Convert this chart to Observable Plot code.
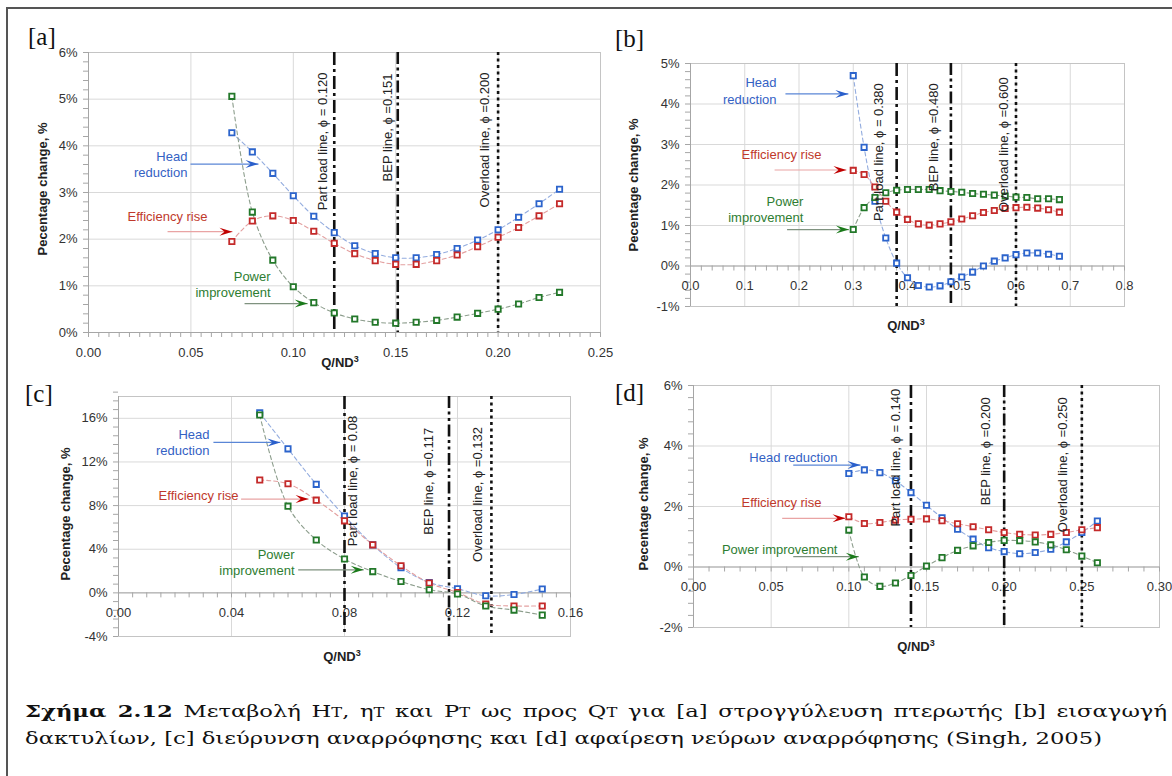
<!DOCTYPE html>
<html>
<head>
<meta charset="utf-8">
<script src="https://cdn.jsdelivr.net/npm/d3@7"></script>
<script src="https://cdn.jsdelivr.net/npm/@observablehq/plot@0.6"></script>
<style>
html,body{margin:0;padding:0;background:#fff;}
#fig{position:relative;width:1172px;height:776px;overflow:hidden;background:#fff;}
.panel{position:absolute;}
.panel svg{display:block;max-width:none !important;}
#caption{position:absolute;left:25px;top:699px;font-family:"DejaVu Serif",serif;font-size:17px;color:#111;transform-origin:0 0;line-height:25px;}
#caption .l1{white-space:nowrap;text-align:justify;text-align-last:justify;}
#caption .l2{white-space:nowrap;}
#caption .t{font-size:0.72em;}
</style>
</head>
<body>
<div id="fig"></div>
<script>
// ---------------- data ----------------
// [a] impeller rounding
const qA    = [0.07,0.08,0.09,0.10,0.11,0.12,0.13,0.14,0.15,0.16,0.17,0.18,0.19,0.20,0.21,0.22,0.23];
const headA = [4.28,3.87,3.41,2.93,2.49,2.14,1.86,1.69,1.60,1.60,1.67,1.80,1.98,2.20,2.47,2.76,3.07];
const effA  = [1.95,2.39,2.50,2.40,2.17,1.91,1.69,1.54,1.46,1.46,1.54,1.66,1.84,2.04,2.25,2.50,2.76];
const powA  = [5.06,2.58,1.55,0.98,0.64,0.42,0.29,0.22,0.20,0.22,0.26,0.33,0.41,0.50,0.61,0.75,0.86];
// [b] ring insertion
const qB    = [0.30,0.32,0.34,0.36,0.38,0.40,0.42,0.44,0.46,0.48,0.50,0.52,0.54,0.56,0.58,0.60,0.62,0.64,0.66,0.68];
const headB = [4.70,2.93,1.60,0.69,0.07,-0.29,-0.48,-0.52,-0.49,-0.39,-0.27,-0.15,0.00,0.12,0.20,0.28,0.32,0.32,0.29,0.24];
const effB  = [2.36,2.26,1.95,1.60,1.33,1.15,1.04,1.01,1.04,1.09,1.16,1.24,1.32,1.37,1.42,1.44,1.45,1.43,1.39,1.33];
const powB  = [0.90,1.44,1.69,1.81,1.87,1.89,1.89,1.89,1.86,1.84,1.82,1.79,1.77,1.75,1.73,1.70,1.69,1.66,1.66,1.64];
// [c] suction enlargement
const qC    = [0.05,0.06,0.07,0.08,0.09,0.10,0.11,0.12,0.13,0.14,0.15];
const headC = [16.5,13.2,9.95,7.05,4.40,2.30,0.95,0.38,-0.27,-0.15,0.35];
const effC  = [10.35,10.0,8.50,6.60,4.40,2.48,0.90,0.03,-1.03,-1.20,-1.20];
const powC  = [16.3,7.95,4.85,3.10,1.95,1.04,0.29,-0.10,-1.20,-1.58,-2.04];
// [d] suction rib removal
const qD    = [0.10,0.11,0.12,0.13,0.14,0.15,0.16,0.17,0.18,0.19,0.20,0.21,0.22,0.23,0.24,0.25,0.26];
const headD = [3.09,3.21,3.12,2.85,2.46,2.04,1.63,1.25,0.92,0.64,0.51,0.44,0.48,0.59,0.83,1.14,1.52];
const effD  = [1.66,1.44,1.47,1.55,1.58,1.59,1.53,1.43,1.33,1.23,1.14,1.08,1.06,1.08,1.14,1.23,1.30];
const powD  = [1.22,-0.33,-0.64,-0.53,-0.28,0.03,0.31,0.55,0.70,0.81,0.88,0.87,0.83,0.73,0.57,0.36,0.14];

// reference lines (flow coefficient φ) and their labels
const linesA = [{kind:"part", phi:0.120, text:"Part load line, ϕ = 0.120"},{kind:"bep", phi:0.151, text:"BEP line, ϕ =0.151"},{kind:"over", phi:0.200, text:"Overload line, ϕ =0.200"}];
const linesB = [{kind:"part", phi:0.380, text:"Part load line, ϕ = 0.380"},{kind:"bep", phi:0.480, text:"BEP line, ϕ =0.480"},{kind:"over", phi:0.600, text:"Overload line, ϕ =0.600"}];
const linesC = [{kind:"part", phi:0.080, text:"Part load line, ϕ = 0.08"},{kind:"bep", phi:0.117, text:"BEP line, ϕ =0.117"},{kind:"over", phi:0.132, text:"Overload line, ϕ =0.132"}];
const linesD = [{kind:"part", phi:0.140, text:"Part load line, ϕ = 0.140"},{kind:"bep", phi:0.200, text:"BEP line, ϕ =0.200"},{kind:"over", phi:0.250, text:"Overload line, ϕ =0.250"}];
// label anchors (data units: top end of each rotated label)
const lineLabelPosA = [[0.1143,5.57],[0.146,5.55],[0.1934,5.57]];
const lineLabelPosB = [[0.3465,4.51],[0.448,4.51],[0.577,4.66]];
const lineLabelPosC = [[0.0828,16.23],[0.1097,15.13],[0.1271,15.2]];
const lineLabelPosD = [[0.130,5.89],[0.188,5.61],[0.2379,5.61]];

// series annotations: text anchor (right end) and arrow (data units)
const annotA = [
  {s:"head", text:"Head\nreduction",    tx:0.0483, ty:3.62, x1:0.0498, x2:0.0830, y:3.61},
  {s:"eff",  text:"Efficiency rise",    tx:0.0581, ty:2.51, x1:0.0386, x2:0.0703, y:2.16},
  {s:"pow",  text:"Power\nimprovement", tx:0.0889, ty:1.04, x1:0.0762, x2:0.1070, y:0.62}];
const annotB = [
  {s:"head", text:"Head\nreduction",    tx:0.1585, ty:4.34, x1:0.175, x2:0.291, y:4.25},
  {s:"eff",  text:"Efficiency rise",    tx:0.2415, ty:2.78, x1:0.155, x2:0.2875, y:2.37},
  {s:"pow",  text:"Power\nimprovement", tx:0.208,  ty:1.42, x1:0.178, x2:0.292, y:0.90}];
const annotC = [
  {s:"head", text:"Head\nreduction",    tx:0.0322, ty:13.85, x1:0.0336, x2:0.0573, y:13.79},
  {s:"eff",  text:"Efficiency rise",    tx:0.0425, ty:8.99,  x1:0.0434, x2:0.0673, y:8.60},
  {s:"pow",  text:"Power\nimprovement", tx:0.0623, ty:2.85,  x1:0.0636, x2:0.0868, y:2.11}];
const annotD = [
  {s:"head", text:"Head reduction",    tx:0.0927, ty:3.63, x1:0.0642, x2:0.1075, y:3.37},
  {s:"eff",  text:"Efficiency rise",   tx:0.0824, ty:2.14, x1:0.0571, x2:0.0979, y:1.61},
  {s:"pow",  text:"Power improvement", tx:0.0927, ty:0.59, x1:0.0642, x2:0.1064, y:0.34}];

// axis ticks
const xMajorA = [0,0.05,0.10,0.15,0.20,0.25];
const yMajorA = [0,1,2,3,4,5,6];
const xMajorB = [0,0.1,0.2,0.3,0.4,0.5,0.6,0.7,0.8];
const yMajorB = [-1,0,1,2,3,4,5];
const xMajorC = [0,0.04,0.08,0.12,0.16];
const yMajorC = [-4,0,4,8,12,16];
const xMajorD = [0,0.05,0.10,0.15,0.20,0.25,0.30];
const yMajorD = [-2,0,2,4,6];

// ---------------- styling ----------------
const FONT = "'Liberation Sans', Arial, sans-serif";
const COL = {
  head: {mark:"#2c64cc", trend:"#93acdf", text:"#3461c4", shaft:"#5a86d6", tip:"#2a5fcb"},
  eff:  {mark:"#c42a2a", trend:"#e3a0a0", text:"#c0392b", shaft:"#e9a4a4", tip:"#c00000"},
  pow:  {mark:"#23782a", trend:"#8d9e8d", text:"#2e7d32", shaft:"#7f927f", tip:"#1a7a1a"}
};
const DASH = {part:"13,4,3,4", bep:"12,3.5,3,3.5,3,3.5", over:"3,3.5"};
const stealth = {draw(ctx){ ctx.moveTo(0,0); ctx.lineTo(-13,-4); ctx.lineTo(-8,0); ctx.lineTo(-13,4); ctx.closePath(); }};
const range = (a,b,s) => { const out=[]; const n=Math.round((b-a)/s); for(let i=0;i<=n;i++) out.push(+(a+i*s).toFixed(6)); return out; };

function buildPanel(p){
  const [x0] = p.xDomain;
  const marks = [];
  // grid
  marks.push(Plot.ruleX(p.xMajor, {x:d=>d, stroke:"#d9d9d9", strokeWidth:1}));
  marks.push(Plot.ruleY(p.yMajor, {y:d=>d, stroke:"#d9d9d9", strokeWidth:1}));
  marks.push(Plot.frame({stroke:"#c4c4c4"}));
  // axis lines
  marks.push(Plot.ruleX([x0], {x:d=>d, stroke:"#a6a6a6"}));
  marks.push(Plot.ruleY([0], {y:d=>d, stroke:"#a6a6a6"}));
  // ticks
  marks.push(Plot.ruleY(range(p.yDomain[0], p.yDomain[1], p.yMinor), {y:d=>d, x1:()=>x0, x2:()=>x0, insetLeft:-5, stroke:"#a6a6a6"}));
  marks.push(Plot.ruleX(range(p.xDomain[0], p.xDomain[1], p.xMinor), {x:d=>d, y1:()=>0, y2:()=>0, insetBottom:-5, stroke:"#a6a6a6"}));
  // tick labels
  marks.push(Plot.text(p.xMajor, {x:d=>d, y:()=>0, dy:20, text:p.xFmt, fill:"#333", fontSize:13, lineAnchor:"middle"}));
  marks.push(Plot.text(p.yMajor, {x:()=>x0, y:d=>d, dx:-11, text:d=>d+"%", textAnchor:"end", fill:"#333", fontSize:13}));
  // reference lines
  p.lines.forEach(l => marks.push(Plot.ruleX([l], {x:"phi", stroke:"#111", strokeWidth:2.6, strokeDasharray:DASH[l.kind]})));
  // series
  const series = [["head",p.head],["eff",p.eff],["pow",p.pow]];
  series.forEach(([k,vals]) => {
    const rows = p.q.map((x,i)=>({x, y:vals[i]}));
    marks.push(Plot.line(rows, {x:"x", y:"y", stroke:COL[k].trend, strokeWidth:1.1, strokeDasharray:"4,3", curve:"catmull-rom"}));
  });
  series.forEach(([k,vals]) => {
    const rows = p.q.map((x,i)=>({x, y:vals[i]}));
    marks.push(Plot.dot(rows, {x:"x", y:"y", symbol:"square", r:3, fill:"white", stroke:COL[k].mark, strokeWidth:1.8}));
  });
  // annotations
  p.annot.forEach(a => {
    marks.push(Plot.link([a], {x1:"x1", x2:"x2", y1:"y", y2:"y", stroke:COL[a.s].shaft, strokeWidth:1.2}));
    marks.push(Plot.dot([a], {x:"x2", y:"y", symbol:stealth, fill:COL[a.s].tip, stroke:"none"}));
    marks.push(Plot.text([a], {x:"tx", y:"ty", text:"text", textAnchor:"end", lineAnchor:"middle", lineHeight:1.25, fill:COL[a.s].text, fontSize:13}));
  });
  // rotated line labels
  const labs = p.lines.map((l,i)=>({text:l.text, lx:p.labelPos[i][0], ly:p.labelPos[i][1]}));
  marks.push(Plot.text(labs, {x:"lx", y:"ly", text:"text", rotate:-90, textAnchor:"end", lineAnchor:"middle", fill:"#222", fontSize:13}));

  const svg = Plot.plot({
    width:p.w, height:p.h,
    marginLeft:p.m[0], marginRight:p.m[1], marginTop:p.m[2], marginBottom:p.m[3],
    style:{background:"transparent", overflow:"visible", fontFamily:FONT, fontSize:"13px"},
    x:{domain:p.xDomain, axis:null},
    y:{domain:p.yDomain, axis:null},
    marks
  });
  const div = document.createElement("div");
  div.className = "panel";
  div.style.left = p.left+"px"; div.style.top = p.top+"px";
  div.style.width = p.w+"px"; div.style.height = p.h+"px";
  div.appendChild(svg);
  document.getElementById("fig").appendChild(div);
}

const f2 = d3.format(".2f"), f1 = d3.format(".1f");
buildPanel({left:0, top:0, w:610, h:372, m:[88,10,52,40],
  q:qA, head:headA, eff:effA, pow:powA, xDomain:[0,0.25], yDomain:[0,6],
  xMajor:xMajorA, xMinor:0.005, yMajor:yMajorA, yMinor:0.2, xFmt:f2,
  lines:linesA, labelPos:lineLabelPosA, annot:annotA});
buildPanel({left:610, top:0, w:540, h:345, m:[80,26,63,39],
  q:qB, head:headB, eff:effB, pow:powB, xDomain:[0,0.8], yDomain:[-1,5],
  xMajor:xMajorB, xMinor:0.02, yMajor:yMajorB, yMinor:0.2, xFmt:f1,
  lines:linesB, labelPos:lineLabelPosB, annot:annotB});
buildPanel({left:0, top:370, w:600, h:300, m:[118,30,26,34],
  q:qC, head:headC, eff:effC, pow:powC, xDomain:[0,0.16], yDomain:[-4,18],
  xMajor:xMajorC, xMinor:0.005, yMajor:yMajorC, yMinor:0.8, xFmt:f2,
  lines:linesC, labelPos:lineLabelPosC, annot:annotC});
buildPanel({left:610, top:370, w:562, h:300, m:[83,13,15,43],
  q:qD, head:headD, eff:effD, pow:powD, xDomain:[0,0.30], yDomain:[-2,6],
  xMajor:xMajorD, xMinor:0.01, yMajor:yMajorD, yMinor:0.4, xFmt:f2,
  lines:linesD, labelPos:lineLabelPosD, annot:annotD});

// ---------------- overlay texts (titles, panel letters) ----------------
const fig = d3.select("#fig");
const ov = fig.append("svg").attr("width",1172).attr("height",776)
  .style("position","absolute").style("left","0px").style("top","0px").style("pointer-events","none");
const yTitles = [[42,189],[633,185],[65,514],[643,504]];
const xTitles = [[340,362],[906,325],[342,656],[916,646]];
yTitles.forEach(([x,y]) => ov.append("text").attr("transform",`translate(${x},${y}) rotate(-90)`)
  .attr("text-anchor","middle").attr("dy","0.35em").attr("font-family",FONT).attr("font-weight","bold")
  .attr("font-size",13).attr("fill","#222").text("Pecentage change, %"));
xTitles.forEach(([x,y]) => {
  const t = ov.append("text").attr("x",x).attr("y",y).attr("text-anchor","middle").attr("dy","0.35em")
    .attr("font-family",FONT).attr("font-weight","bold").attr("font-size",13).attr("fill","#222");
  t.append("tspan").text("Q/ND");
  t.append("tspan").attr("dy","-5").attr("font-size",9).text("3");
});
const letters = [["[a]",28,45],["[b]",615,47],["[c]",25,402],["[d]",615,401]];
letters.forEach(([s,x,y]) => ov.append("text").attr("x",x).attr("y",y)
  .attr("font-family","'Liberation Serif', serif").attr("font-size",25).attr("fill","#111").text(s));

// frame lines of the figure box
fig.append("div").style("position","absolute").style("left","6px").style("top","7px")
  .style("width","1166px").style("height","2px").style("background","#555");
fig.append("div").style("position","absolute").style("left","6px").style("top","7px")
  .style("width","2px").style("height","769px").style("background","#555");

// ---------------- caption ----------------
const cap = fig.append("div").attr("id","caption");
const l1 = cap.append("div").attr("class","l1");
l1.html('<b>Σχήμα 2.12</b> Μεταβολή H<span class="t">T</span>, η<span class="t">T</span> και P<span class="t">T</span> ως προς Q<span class="t">T</span> για [a] στρογγύλευση πτερωτής [b] εισαγωγή');
const l2 = cap.append("div").attr("class","l2");
const l2s = l2.append("span").text("δακτυλίων, [c] διεύρυνση αναρρόφησης και [d] αφαίρεση νεύρων αναρρόφησης (Singh, 2005)");
const w2 = l2s.node().getBoundingClientRect().width;
const k = 1077 / w2;
cap.style("transform", `scaleX(${k})`);
l1.style("width", (1142 / k) + "px");
</script>
</body>
</html>
